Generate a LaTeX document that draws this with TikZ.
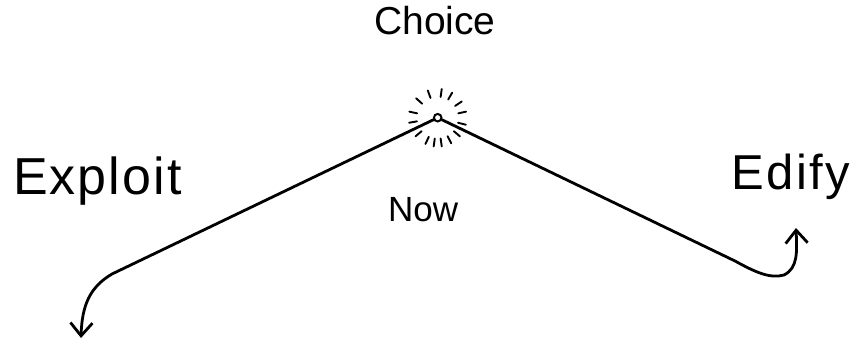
\documentclass[tikz,border=0pt]{standalone}
\usepackage{fontspec}
\setmainfont{Liberation Sans}
\usetikzlibrary{arrows.meta,calc}
\tikzset{
  stroke/.style={line width=2.8pt, line cap=round, line join=round},
  ray/.style={line width=1.9pt, line cap=round},
  barb/.style={-{Straight Barb[length=13pt,width=22pt]}},
  lbl/.style={inner sep=0pt, anchor=base west, text=black},
  dot/.style={circle, draw, line width=2pt, minimum size=7.5pt, inner sep=0pt}
}
\begin{document}
\begin{tikzpicture}[x=1pt,y=-1pt]
\useasboundingbox (0,0) rectangle (866,344);
\fill[white] (0,0) rectangle (866,344);
% labels
\node[lbl, font=\fontsize{39}{39}\selectfont] (choice) at (374,35) {Choice};
\node[lbl, font=\fontsize{52}{52}\selectfont\addfontfeatures{LetterSpace=4}] (exploit) at (13,195) {Exploit};
\node[lbl, font=\fontsize{49}{49}\selectfont\addfontfeatures{LetterSpace=5}] (edify) at (731,190) {Edify};
\node[lbl, font=\fontsize{35}{35}\selectfont] (nowlbl) at (388,222) {Now};
% the present moment
\node[dot] (now) at (437.7,117.7) {};
\foreach \a in {138,110,82,60,34,12,168,190,220,245,262,278,298,320,346}
  \draw[ray] ($(now)+(-\a:21)$) -- ($(now)+(-\a:29)$);
% paths
\coordinate (l1) at (112,274);
\coordinate (ltip) at (81,338);
\coordinate (r1) at (735,261);
\coordinate (rb) at (784,275);
\coordinate (rtip) at (796,228);
\draw[stroke, barb] (now) -- (l1) .. controls (90,287) and (82,305) .. (ltip);
\draw[stroke, barb] (now) -- (r1) .. controls (755,272) and (770,279) .. (rb)
  .. controls (798,268) and (797,252) .. (rtip);
\end{tikzpicture}
\end{document}
